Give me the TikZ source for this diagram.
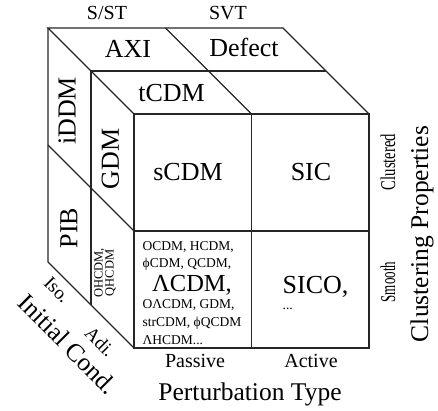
\documentclass[tikz,border=0pt]{standalone}
\usepackage{fontspec}
\setmainfont{Liberation Serif}
\usetikzlibrary{calc}

\begin{document}
\begin{tikzpicture}[x=1pt, y=-1pt, line width=1.3pt,
    % text sizes
    bigtext/.style={font=\fontsize{26}{28}\selectfont, inner sep=0pt},
    axistext/.style={font=\fontsize{25.5}{27}\selectfont, inner sep=0pt},
    midtext/.style={font=\fontsize{20}{22}\selectfont, inner sep=0pt},
    smalltext/.style={font=\fontsize{13.5}{15}\selectfont, inner sep=0pt}
]
\useasboundingbox (0,0) rectangle (438,411);

% Define the corners of the cube
\coordinate (BTL) at (48,28);
\coordinate (BTR) at (283,28);
\coordinate (BBL) at (48,262);
\coordinate (FTL) at (134,114);
\coordinate (FTR) at (369,114);
\coordinate (FBR) at (369,348);
\coordinate (FBL) at (134,348);

% Define the split points
\coordinate (TM) at ($(BTL)!0.5!(FTL)$);
\coordinate (TR) at ($(BTR)!0.5!(FTR)$);
\coordinate (BM) at ($(BBL)!0.5!(FBL)$);
\coordinate (BT) at ($(BTL)!0.5!(BTR)$);
\coordinate (FT) at ($(FTL)!0.5!(FTR)$);
\coordinate (FB) at ($(FBL)!0.5!(FBR)$);
\coordinate (FL) at ($(FTL)!0.5!(FBL)$);
\coordinate (FR) at ($(FTR)!0.5!(FBR)$);
\coordinate (BL) at ($(BTL)!0.5!(BBL)$);

% Draw the cube
\draw[black!85] (FTL) -- (FTR) -- (FBR) -- (FBL) -- cycle;
\draw[black!85] (FTL) -- (BTL) -- (BTR) -- (FTR);
\draw[black!85] (BTL) -- (BBL) -- (FBL);
\draw[black!85] (FT) -- (FB);
\draw[black!85] (FL) -- (FR);
\draw[black!85] (TM) -- (TR);
\draw[black!85] (BT) -- (FT);
\draw[black!85] (TM) -- (BM);
\draw[black!85] (BL) -- (FL);

% Top face labels
\node[midtext, anchor=base] (sst) at (107,20) {S/ST};
\node[midtext, anchor=base] (svt) at (228,20) {SVT};
\node[bigtext, anchor=base] (axi) at (128,57.3) {AXI};
\node[bigtext, anchor=base] (defect) at (244,56.7) {Defect};
\node[bigtext, anchor=base] (tcdm) at (171.5,101.7) {tCDM};

% Left face labels
\node[bigtext, rotate=90] (iddm) at (67,111) {iDDM};
\node[bigtext, rotate=90] (gdm) at (110.5,159) {GDM};
\node[bigtext, rotate=90] (pib) at (69,228) {PIB};
\node[font=\fontsize{12.5}{9.5}\selectfont, inner sep=0pt, align=center, rotate=90] (ohcdm) at (105,273) {OHCDM,\\QHCDM};

% Front face labels
\node[bigtext, anchor=base] (scdm) at (188,181) {sCDM};
\node[bigtext, anchor=base] (sic) at (311,181) {SIC};
\node[smalltext, anchor=base west] (lineA) at (142,250) {OCDM, HCDM,};
\node[smalltext, anchor=base west] (lineB) at (142,267) {ϕCDM, QCDM,};
\node[font=\fontsize{24.5}{26}\selectfont, inner sep=0pt, anchor=base] (lcdm) at (192,291) {ΛCDM,};
\node[smalltext, anchor=base west] (lineC) at (142,308) {OΛCDM, GDM,};
\node[smalltext, anchor=base west] (lineD) at (142,326) {strCDM, ϕQCDM};
\node[smalltext, anchor=base west] (lineE) at (142,344) {ΛHCDM...};
\node[bigtext, anchor=base west] (sico) at (282,293) {SICO,};
\node[smalltext, anchor=base west] (dots) at (282,309) {...};

% Axis labels
\node[midtext, anchor=base] (passive) at (195,367) {Passive};
\node[midtext, anchor=base] (active) at (311,367) {Active};
\node[axistext, anchor=base] (ptype) at (250,400) {Perturbation Type};
\node[font=\fontsize{21}{22}\selectfont, inner sep=0pt, rotate=90] (clustered) at (388,162) {\scalebox{0.7}[1]{Clustered}};
\node[font=\fontsize{21}{22}\selectfont, inner sep=0pt, rotate=90] (smooth) at (388,282) {\scalebox{0.62}[1]{Smooth}};
\node[axistext, rotate=90] (cprop) at (422,234) {Clustering Properties};
\node[font=\fontsize{19}{20}\selectfont, inner sep=0pt, rotate=-45] (iso) at (57,290) {Iso.};
\node[font=\fontsize{19}{20}\selectfont, inner sep=0pt, rotate=-45] (adi) at (100,342) {Adi.};
\node[axistext, rotate=-45] (icond) at (68,344) {Initial Cond.};

\end{tikzpicture}
\end{document}
